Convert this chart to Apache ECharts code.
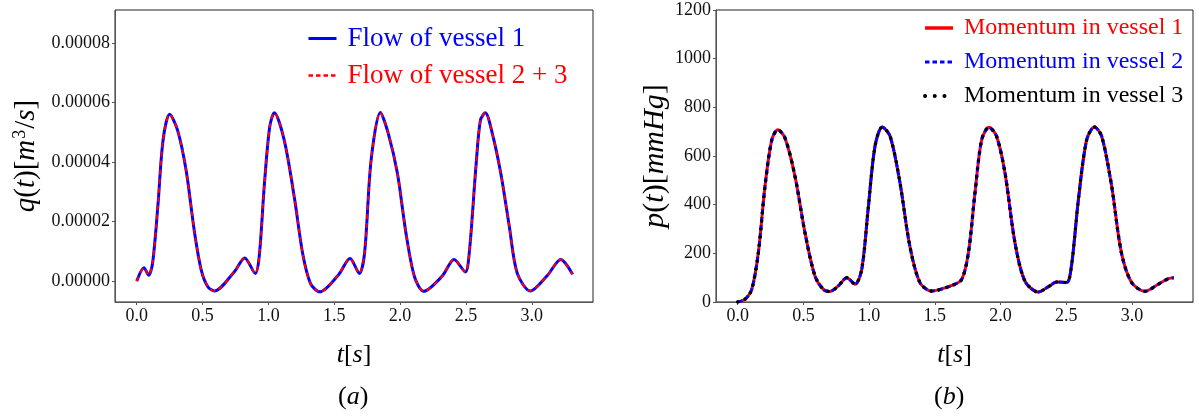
<!DOCTYPE html>
<html>
<head>
<meta charset="utf-8">
<script src="https://cdn.jsdelivr.net/npm/echarts@6/dist/echarts.min.js"></script>
<style>
html,body{margin:0;padding:0;background:#fff;}
#c{width:1199px;height:416px;}
</style>
</head>
<body>
<div id="c"></div>
<script>
// ---- Data ----
const flowTime = [0.0,0.055,0.09,0.12,0.16,0.2,0.25,0.31,0.375,0.44,0.49,0.54,0.59,0.74,0.82,0.9,0.93,0.97,1.01,1.045,1.12,1.2,1.26,1.32,1.39,1.53,1.62,1.69,1.73,1.78,1.85,1.91,1.98,2.045,2.11,2.18,2.32,2.41,2.495,2.525,2.576,2.61,2.647,2.70,2.765,2.83,2.89,2.99,3.12,3.22,3.31];
const flowVessel1 = [0,4.5e-6,2.0e-6,5.9e-6,2.49e-5,4.73e-5,5.6e-5,5.07e-5,3.72e-5,1.6e-5,3.7e-6,-1.9e-6,-3.3e-6,3.1e-6,7.8e-6,2.6e-6,8.2e-6,3.28e-5,5.18e-5,5.65e-5,4.73e-5,2.72e-5,9.3e-6,-0.8e-6,-3.6e-6,2.0e-6,7.6e-6,2.6e-6,9.3e-6,4.06e-5,5.66e-5,4.96e-5,3.61e-5,1.6e-5,1.4e-6,-3.4e-6,1.7e-6,7.3e-6,3.1e-6,9.3e-6,3.84e-5,5.4e-5,5.65e-5,4.96e-5,3.61e-5,1.82e-5,2.6e-6,-3.3e-6,2.0e-6,7.3e-6,2.3e-6];
const flowVessel23 = [0,4.5e-6,2.0e-6,5.9e-6,2.49e-5,4.73e-5,5.6e-5,5.07e-5,3.72e-5,1.6e-5,3.7e-6,-1.9e-6,-3.3e-6,3.1e-6,7.8e-6,2.6e-6,8.2e-6,3.28e-5,5.18e-5,5.65e-5,4.73e-5,2.72e-5,9.3e-6,-0.8e-6,-3.6e-6,2.0e-6,7.6e-6,2.6e-6,9.3e-6,4.06e-5,5.66e-5,4.96e-5,3.61e-5,1.6e-5,1.4e-6,-3.4e-6,1.7e-6,7.3e-6,3.1e-6,9.3e-6,3.84e-5,5.4e-5,5.65e-5,4.96e-5,3.61e-5,1.82e-5,2.6e-6,-3.3e-6,2.0e-6,7.3e-6,2.3e-6];

const presTime = [0.0,0.055,0.107,0.157,0.208,0.26,0.305,0.36,0.436,0.512,0.588,0.652,0.70,0.766,0.83,0.893,0.944,0.995,1.045,1.10,1.16,1.235,1.31,1.387,1.476,1.63,1.705,1.756,1.806,1.857,1.912,1.97,2.034,2.11,2.186,2.288,2.365,2.428,2.504,2.54,2.593,2.656,2.715,2.77,2.846,2.92,2.998,3.10,3.20,3.278,3.32];
const momentumVessel1 = [0,11,52,202,476,667,708,674,517,285,107,52,43,66,100,73,134,394,640,719,681,490,230,80,45,68,93,203,449,667,718,681,531,244,86,41,63,82,80,148,421,667,719,681,476,203,80,44,73,96,100];
const momentumVessel2 = [0,11,52,202,476,667,708,674,517,285,107,52,43,66,100,73,134,394,640,719,681,490,230,80,45,68,93,203,449,667,718,681,531,244,86,41,63,82,80,148,421,667,719,681,476,203,80,44,73,96,100];
const momentumVessel3 = [0,11,52,202,476,667,708,674,517,285,107,52,43,66,100,73,134,394,640,719,681,490,230,80,45,68,93,203,449,667,718,681,531,244,86,41,63,82,80,148,421,667,719,681,476,203,80,44,73,96,100];

const flowNames = ['Flow of vessel 1', 'Flow of vessel 2 + 3'];
const momNames = ['Momentum in vessel 1', 'Momentum in vessel 2', 'Momentum in vessel 3'];

// ---- Chart ----
const zip = (xs, ys) => xs.map((x, i) => [x, ys[i]]);
const SERIF = "'Liberation Serif', 'DejaVu Serif', serif";
const BLUE = '#0000ff', RED = '#ff0000', BLACK = '#000000';

function richMath(size) {
  return {
    i: {fontFamily: SERIF, fontStyle: 'italic', fontSize: size, color: '#000'},
    n: {fontFamily: SERIF, fontSize: size, color: '#000'},
    s: {fontFamily: SERIF, fontSize: Math.round(size * 0.62), color: '#000', verticalAlign: 'top', padding: [0, 1, 12, 1]}
  };
}

const tickLabel = {fontFamily: SERIF, fontSize: 18, color: '#111'};

function xAxisCfg(gi) {
  return {
    type: 'value', gridIndex: gi, min: -0.165, max: 3.465, splitNumber: 7,
    axisLine: {show: true, onZero: false, lineStyle: {color: '#555', width: 1}},
    axisTick: {show: true, length: 3, lineStyle: {color: '#555'}},
    splitLine: {show: false},
    axisLabel: Object.assign({formatter: v => v.toFixed(1), showMinLabel: false, showMaxLabel: false, margin: 5}, tickLabel),
    name: '{i|t}{n|[}{i|s}{n|]}', nameLocation: 'middle', nameGap: 40,
    nameTextStyle: {rich: richMath(26)}
  };
}

const chart = echarts.init(document.getElementById('c'), null, {renderer: 'canvas'});
chart.setOption({
  animation: false,
  backgroundColor: '#fff',
  grid: [
    {left: 115, top: 10, width: 478, height: 292, show: true, borderColor: '#222', borderWidth: 1},
    {left: 716, top: 10, width: 477, height: 292, show: true, borderColor: '#222', borderWidth: 1}
  ],
  xAxis: [xAxisCfg(0), xAxisCfg(1)],
  yAxis: [
    {
      type: 'value', gridIndex: 0, min: -0.000007, max: 0.000091, splitNumber: 5,
      axisLine: {show: true, onZero: false, lineStyle: {color: '#555'}},
      axisTick: {show: true, length: 3, lineStyle: {color: '#555'}},
      splitLine: {show: false},
      axisLabel: Object.assign({formatter: v => v.toFixed(5), showMinLabel: false, showMaxLabel: false, margin: 5}, tickLabel),
      name: '{i|q}{n|(}{i|t}{n|)[}{i|m}{s|3}{n|/}{i|s}{n|]}', nameLocation: 'middle', nameGap: 74, nameRotate: 90,
      nameTextStyle: {rich: richMath(29)}
    },
    {
      type: 'value', gridIndex: 1, min: 0, max: 1200, interval: 200,
      axisLine: {show: true, onZero: false, lineStyle: {color: '#555'}},
      axisTick: {show: true, length: 3, lineStyle: {color: '#555'}},
      splitLine: {show: false},
      axisLabel: Object.assign({margin: 5, formatter: v => String(v)}, tickLabel),
      name: '{i|p}{n|(}{i|t}{n|)[}{i|mmHg}{n|]}', nameLocation: 'middle', nameGap: 46, nameRotate: 90,
      nameTextStyle: {rich: richMath(30)}
    }
  ],
  legend: [
    {
      left: 302, top: 20, orient: 'vertical', itemWidth: 28, itemHeight: 12, itemGap: 10,
      itemStyle: {opacity: 0},
      textStyle: {fontFamily: SERIF, fontSize: 27, lineHeight: 27, padding: [0, 0, 0, 6]},
      data: [
        {name: flowNames[0], textStyle: {color: BLUE}, lineStyle: {width: 3}},
        {name: flowNames[1], textStyle: {color: RED}, lineStyle: {width: 2.5, type: [4.5, 3]}}
      ]
    },
    {
      left: 918, top: 11, orient: 'vertical', itemWidth: 28, itemHeight: 12, itemGap: 10,
      itemStyle: {opacity: 0},
      textStyle: {fontFamily: SERIF, fontSize: 24, lineHeight: 24, padding: [0, 0, 0, 6]},
      data: [
        {name: momNames[0], textStyle: {color: RED}, lineStyle: {width: 3.5}},
        {name: momNames[1], textStyle: {color: BLUE}, lineStyle: {width: 3, type: [4.5, 3]}},
        {name: momNames[2], textStyle: {color: BLACK}, lineStyle: {width: 4, type: [0.1, 9.6], cap: 'round'}}
      ]
    }
  ],
  graphic: [
    {type: 'text', left: 338, top: 384, style: {text: '{n|(}{i|a}{n|)}', rich: richMath(26)}},
    {type: 'text', left: 934, top: 384, style: {text: '{n|(}{i|b}{n|)}', rich: richMath(26)}}
  ],
  series: [
    {name: flowNames[0], type: 'line', xAxisIndex: 0, yAxisIndex: 0, data: zip(flowTime, flowVessel1),
     smooth: 0.3, symbol: 'none', lineStyle: {color: BLUE, width: 3}, itemStyle: {color: BLUE}, z: 2},
    {name: flowNames[1], type: 'line', xAxisIndex: 0, yAxisIndex: 0, data: zip(flowTime, flowVessel23),
     smooth: 0.3, symbol: 'none', lineStyle: {color: RED, width: 2, type: [5, 4]}, itemStyle: {color: RED}, z: 3},
    {name: momNames[0], type: 'line', xAxisIndex: 1, yAxisIndex: 1, data: zip(presTime, momentumVessel1),
     smooth: 0.3, symbol: 'none', lineStyle: {color: RED, width: 3}, itemStyle: {color: RED}, z: 2},
    {name: momNames[1], type: 'line', xAxisIndex: 1, yAxisIndex: 1, data: zip(presTime, momentumVessel2),
     smooth: 0.3, symbol: 'none', lineStyle: {color: BLUE, width: 3, type: [5, 3]}, itemStyle: {color: BLUE}, z: 3},
    {name: momNames[2], type: 'line', xAxisIndex: 1, yAxisIndex: 1, data: zip(presTime, momentumVessel3),
     smooth: 0.3, symbol: 'none', lineStyle: {color: BLACK, width: 3.5, type: [0.1, 8], cap: 'round'}, itemStyle: {color: BLACK}, z: 4}
  ]
});
</script>
</body>
</html>
